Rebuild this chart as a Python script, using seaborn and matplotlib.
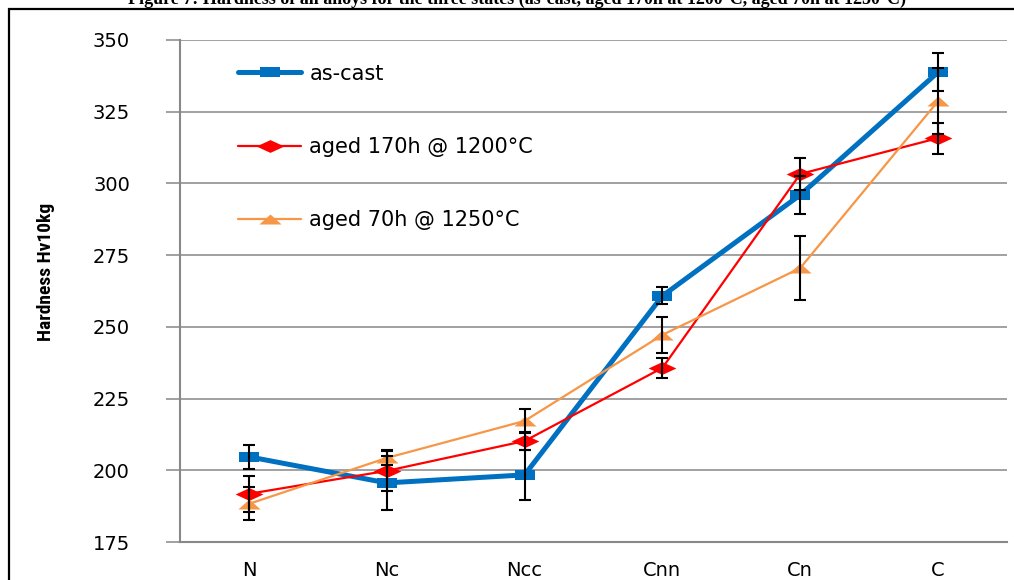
import numpy as np
import pandas as pd
import matplotlib
matplotlib.use('Agg')
import matplotlib.pyplot as plt
import seaborn as sns
from matplotlib import font_manager
from matplotlib.patches import Rectangle

# ---- data ----
alloys = ['N', 'Nc', 'Ncc', 'Cnn', 'Cn', 'C']
as_cast = [204.7, 195.6, 198.4, 260.8, 296.0, 338.8]
as_cast_err = [4.2, 9.3, 8.7, 3.0, 6.7, 6.6]
aged_1200 = [191.8, 199.8, 210.2, 235.7, 303.3, 315.8]
aged_1200_err = [6.3, 7.0, 3.0, 3.4, 5.7, 5.4]
aged_1250 = [188.3, 204.3, 217.2, 247.2, 270.5, 328.7]
aged_1250_err = [5.8, 2.6, 4.2, 6.4, 11.2, 11.6]
labels = ['as-cast', 'aged 170h @ 1200°C', 'aged 70h @ 1250°C']
y_ticks = [175, 200, 225, 250, 275, 300, 325, 350]

sns.set_style('white')
plt.rcParams['font.family'] = ['DejaVu Sans']
plt.rcParams['text.color'] = 'black'
plt.rcParams['xtick.labelcolor'] = 'black'
plt.rcParams['ytick.labelcolor'] = 'black'

# narrow bold face for the y label, whichever is installed
fonts = font_manager.fontManager.ttflist
names = {f.name for f in fonts}
if 'Liberation Sans Narrow' in names:
    ylab_font = dict(family='Liberation Sans Narrow', fontweight='bold', fontsize=15)
elif 'Roboto Condensed' in names:
    ylab_font = dict(family='Roboto Condensed', fontweight='bold', fontsize=14)
else:
    ylab_font = dict(family=['Liberation Sans', 'DejaVu Sans'], fontweight='bold', fontsize=12)

df = pd.DataFrame({'alloy': alloys * 3,
                   'x': list(range(len(alloys))) * 3,
                   'hv': as_cast + aged_1200 + aged_1250,
                   'err': as_cast_err + aged_1200_err + aged_1250_err,
                   'state': [labels[0]] * 6 + [labels[1]] * 6 + [labels[2]] * 6})

fig = plt.figure(figsize=(10.14, 5.8), dpi=100)
ax = fig.add_axes([180 / 1014, 38 / 580, 827 / 1014, 502 / 580])

# marker shapes (wide, like the stretched Excel markers)
square = [(-1, -0.48), (1, -0.48), (1, 0.48), (-1, 0.48)]
diamond = [(-1, 0), (0, 0.46), (1, 0), (0, -0.46)]
triangle = [(-1, -0.45), (1, -0.45), (0, 0.45)]

styles = {
    labels[0]: dict(color='#0070C0', lw=3.6, marker=square, ms=15),
    labels[1]: dict(color='#FF0000', lw=1.6, marker=diamond, ms=20),
    labels[2]: dict(color='#F79646', lw=1.6, marker=triangle, ms=16),
}

for i, lab in enumerate(labels):
    sub = df[df['state'] == lab]
    st = styles[lab]
    sns.lineplot(data=sub, x='x', y='hv', ax=ax, color=st['color'], lw=st['lw'],
                 marker=st['marker'], markersize=st['ms'], markeredgewidth=0,
                 label=lab, zorder=3 + i, estimator=None, errorbar=None)

for lab in labels:
    sub = df[df['state'] == lab]
    ax.errorbar(sub['x'], sub['hv'], yerr=sub['err'], fmt='none', ecolor='black',
                elinewidth=1.5, capsize=4, capthick=1.5, zorder=10)

ax.set_xlim(-0.5, 5.5)
ax.set_ylim(175, 350)
ax.set_yticks(y_ticks)
ax.set_xticks(range(len(alloys)))
ax.set_xticklabels(alloys)
ax.set_xticks(np.arange(-0.5, 6, 1), minor=True)
ax.tick_params(axis='x', which='major', length=0, pad=14, labelsize=14)
ax.tick_params(axis='x', which='minor', length=4, width=1.5, color='#888888', direction='out')
ax.tick_params(axis='y', length=10, width=1.1, color='#888888', pad=26, labelsize=14, left=True)
ax.yaxis.grid(True, color='#888888', lw=1.1)
ax.set_axisbelow(True)
for s in ['top', 'right']:
    ax.spines[s].set_visible(False)
for s in ['left', 'bottom']:
    ax.spines[s].set_color('#888888')
    ax.spines[s].set_linewidth(1.5)

ax.set_xlabel('')
ax.set_ylabel('')
fig.text(46 / 1014, 1 - 272 / 580, 'Hardness Hv10kg', rotation=90, ha='center', va='center',
         color='black', **ylab_font)

leg = ax.legend(loc='upper left', bbox_to_anchor=(0.048, 0.99), frameon=False, fontsize=15,
                labelspacing=2.55, handlelength=3.0, handletextpad=0.4)

# caption cut by the top edge and the surrounding frame
fig.text(517 / 1014, 1 - 4 / 580, 'Figure 7: Hardness of all alloys for the three states '
         '(as-cast, aged 170h at 1200°C, aged 70h at 1250°C)', ha='center', va='baseline',
         fontsize=13, fontweight='bold', family=['Liberation Serif', 'DejaVu Serif'])
fig.patches.append(Rectangle((9 / 1014, -0.1), 1.2, 1 - 9 / 580 + 0.1, transform=fig.transFigure,
                             fill=False, edgecolor='black', lw=1.6))

fig.savefig('out.png', dpi=100)
